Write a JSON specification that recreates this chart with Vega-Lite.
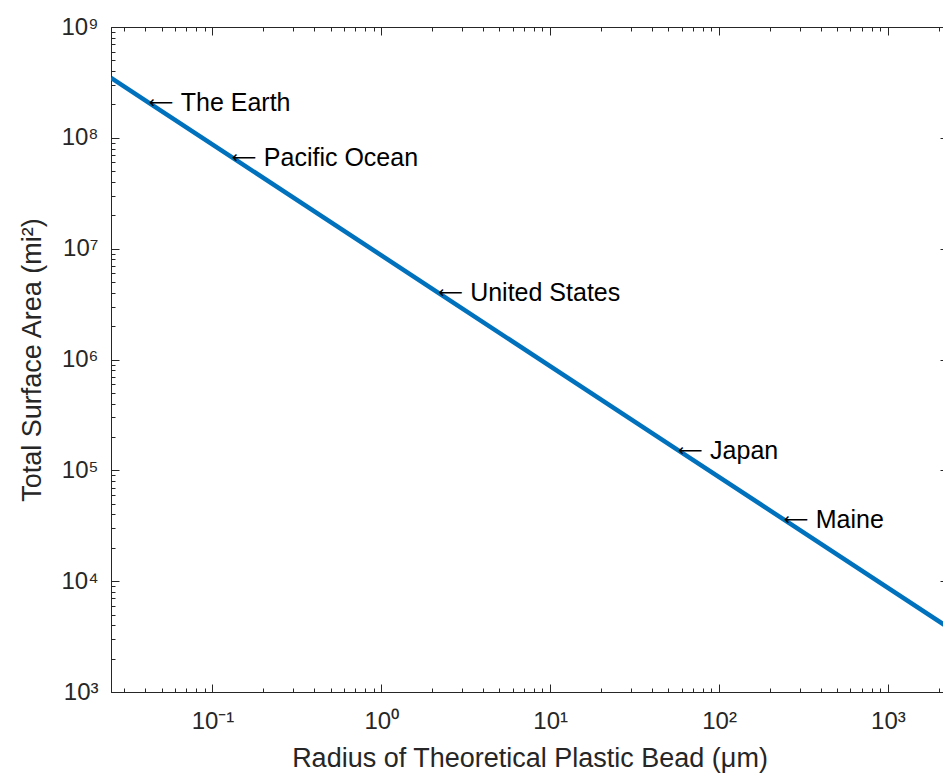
{
  "$schema": "https://vega.github.io/schema/vega-lite/v6.json",
  "width": 837,
  "height": 665,
  "autosize": {"type": "none"},
  "padding": {"left": 111, "top": 27, "right": 0, "bottom": 88},
  "background": "white",
  "config": {
    "font": "Liberation Sans",
    "view": {"stroke": "#262626", "strokeWidth": 1},
    "axis": {
      "domainColor": "#262626",
      "tickColor": "#262626",
      "labelColor": "#262626",
      "titleColor": "#262626",
      "labelFont": "Liberation Sans",
      "titleFont": "Liberation Sans",
      "labelFontSize": 24,
      "titleFontSize": 27,
      "titleFontWeight": "normal",
      "grid": false,
      "labelOverlap": false,
      "labelBound": false,
      "labelFlush": false
    }
  },
  "datasets": {
    "curve": [
      {"radius": 0.02506, "area": 347170000},
      {"radius": 0.0425, "area": 204700000},
      {"radius": 0.132, "area": 65900000},
      {"radius": 2.2, "area": 3955000},
      {"radius": 58, "area": 150000},
      {"radius": 245, "area": 35510},
      {"radius": 2270, "area": 3833}
    ],
    "places": [
      {"radius": 0.0425, "area": 204700000, "label": "The Earth"},
      {"radius": 0.132, "area": 65900000, "label": "Pacific Ocean"},
      {"radius": 2.2, "area": 3955000, "label": "United States"},
      {"radius": 58, "area": 150000, "label": "Japan"},
      {"radius": 245, "area": 35510, "label": "Maine"}
    ]
  },
  "layer": [
    {
      "data": {"name": "curve"},
      "mark": {"type": "line", "color": "#0072BD", "strokeWidth": 4.5, "clip": true},
      "encoding": {
        "x": {
          "field": "radius", "type": "quantitative",
          "scale": {"type": "log", "domain": [0.02506, 2270], "nice": false},
          "axis": {
            "orient": "bottom",
            "title": "Radius of Theoretical Plastic Bead (μm)",
            "titlePadding": 8,
            "values": [0.03,0.04,0.05,0.06,0.07,0.08,0.09,0.1,0.2,0.3,0.4,0.5,0.6,0.7,0.8,0.9,1,2,3,4,5,6,7,8,9,10,20,30,40,50,60,70,80,90,100,200,300,400,500,600,700,800,900,1000,2000],
            "tickSize": {"condition": {"test": "abs(log(datum.value)/LN10 - round(log(datum.value)/LN10)) < 0.000001", "value": -8}, "value": -4},
            "labelPadding": 25,
            "labelExpr": "abs(log(datum.value)/LN10 - round(log(datum.value)/LN10)) < 0.000001 ? '10' + (round(log(datum.value)/LN10) < 0 ? '⁻' : '') + substring('⁰¹²³⁴⁵⁶⁷⁸⁹', abs(round(log(datum.value)/LN10)), abs(round(log(datum.value)/LN10)) + 1) : ''"
          }
        },
        "y": {
          "field": "area", "type": "quantitative",
          "scale": {"type": "log", "domain": [1000, 1000000000], "nice": false},
          "axis": {
            "orient": "left",
            "title": "Total Surface Area (mi²)",
            "titlePadding": 14,
            "values": [1000,2000,3000,4000,5000,6000,7000,8000,9000,10000,20000,30000,40000,50000,60000,70000,80000,90000,100000,200000,300000,400000,500000,600000,700000,800000,900000,1000000,2000000,3000000,4000000,5000000,6000000,7000000,8000000,9000000,10000000,20000000,30000000,40000000,50000000,60000000,70000000,80000000,90000000,100000000,200000000,300000000,400000000,500000000,600000000,700000000,800000000,900000000,1000000000],
            "tickSize": {"condition": {"test": "abs(log(datum.value)/LN10 - round(log(datum.value)/LN10)) < 0.000001", "value": -8}, "value": -4},
            "labelPadding": 21,
            "labelExpr": "abs(log(datum.value)/LN10 - round(log(datum.value)/LN10)) < 0.000001 ? '10' + (round(log(datum.value)/LN10) < 0 ? '⁻' : '') + substring('⁰¹²³⁴⁵⁶⁷⁸⁹', abs(round(log(datum.value)/LN10)), abs(round(log(datum.value)/LN10)) + 1) : ''"
          }
        }
      }
    },
    {
      "data": {"name": "places"},
      "mark": {"type": "text", "align": "left", "baseline": "middle", "fontSize": 25, "color": "#000000", "font": "Liberation Sans", "dx": 31},
      "encoding": {
        "x": {
          "field": "radius", "type": "quantitative",
          "scale": {"type": "log", "domain": [0.02506, 2270], "nice": false},
          "axis": {
            "orient": "top", "title": null, "labels": false, "domain": false,
            "values": [0.03,0.04,0.05,0.06,0.07,0.08,0.09,0.1,0.2,0.3,0.4,0.5,0.6,0.7,0.8,0.9,1,2,3,4,5,6,7,8,9,10,20,30,40,50,60,70,80,90,100,200,300,400,500,600,700,800,900,1000,2000],
            "tickSize": {"condition": {"test": "abs(log(datum.value)/LN10 - round(log(datum.value)/LN10)) < 0.000001", "value": -8}, "value": -4}
          }
        },
        "y": {
          "field": "area", "type": "quantitative",
          "scale": {"type": "log", "domain": [1000, 1000000000], "nice": false},
          "axis": {
            "orient": "right", "title": null, "labels": false, "domain": false,
            "values": [1000,10000,100000,1000000,10000000,100000000,1000000000],
            "tickSize": -8
          }
        },
        "text": {"field": "label"}
      }
    },
    {
      "data": {"name": "places"},
      "mark": {"type": "text", "align": "left", "baseline": "middle", "fontSize": 17, "color": "#000000", "font": "DejaVu Sans", "dx": -1, "text": "⟵"},
      "encoding": {
        "x": {
          "field": "radius", "type": "quantitative",
          "scale": {"type": "log", "domain": [0.02506, 2270], "nice": false},
          "axis": null
        },
        "y": {
          "field": "area", "type": "quantitative",
          "scale": {"type": "log", "domain": [1000, 1000000000], "nice": false},
          "axis": null
        }
      }
    }
  ],
  "resolve": {"axis": {"x": "independent", "y": "independent"}}
}
